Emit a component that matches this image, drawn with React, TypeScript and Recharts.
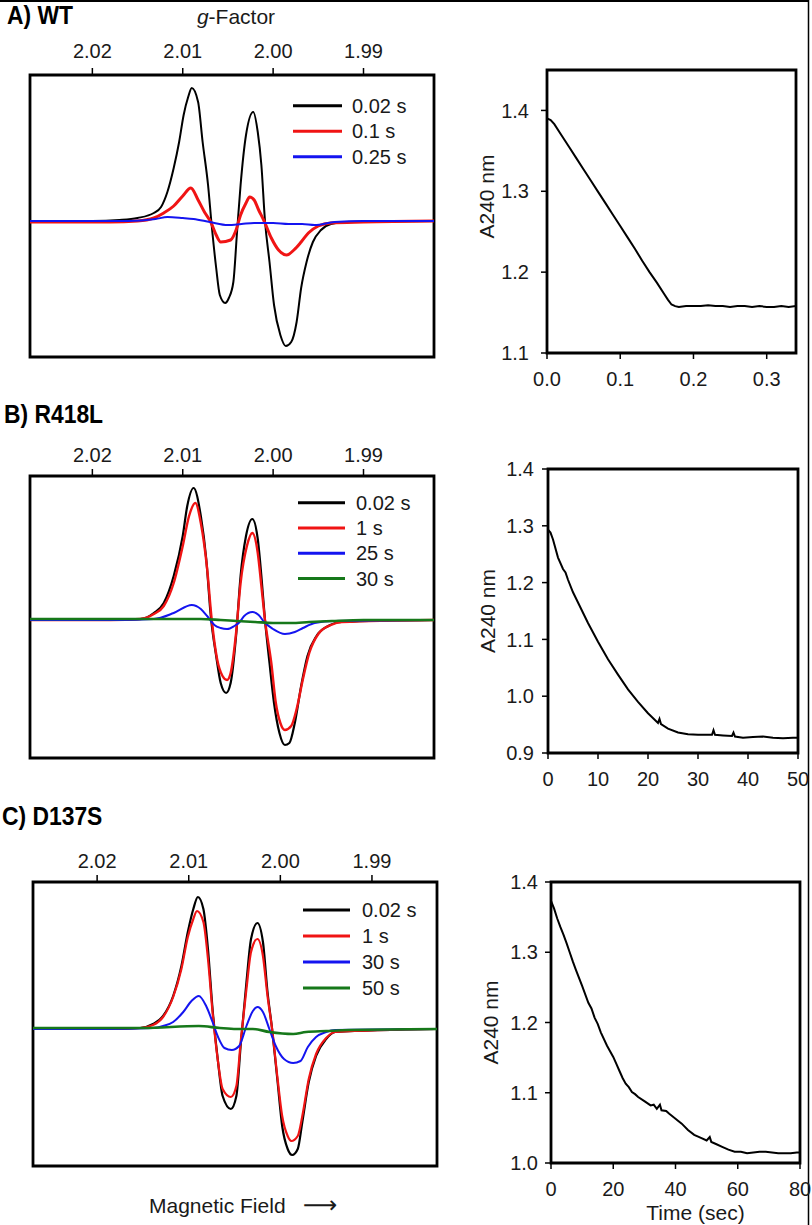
import React from 'react';
import { LineChart, Line, XAxis, YAxis, ReferenceArea, Legend, Label } from 'recharts';

const FONT = '"Liberation Sans", Arial, Helvetica, sans-serif';
const TXT = '#1a1a1a';
const BLACK = '#000000';
const RED = '#f01414';
const BLUE = '#1414f0';
const GREEN = '#16781a';

// ---------- EPR spectra (x: g-factor, y: derivative intensity, arb. units) ----------
const gTicks = [2.02, 2.01, 2.0, 1.99];
const gDomainAB = [1.9822, 2.0269];
const gDomainC = [1.9829, 2.027];

// Panel A (WT)
const gA_002 = [2.0269, 2.02, 2.017, 2.015, 2.0132, 2.0124, 2.0117, 2.011, 2.0104, 2.0099, 2.0094, 2.009, 2.0083, 2.0078, 2.0072, 2.0068, 2.0063, 2.0059, 2.0053, 2.0049, 2.0044, 2.004, 2.0036, 2.003, 2.0022, 2.0017, 2.0013, 2.0009, 2.0004, 1.9999, 1.9992, 1.9986, 1.998, 1.9974, 1.9969, 1.9963, 1.9956, 1.9947, 1.9936, 1.9919, 1.9822];
const yA_002 = [0, 0, 1, 3, 8, 14, 29, 53, 79, 106, 124, 133, 119, 79, 36, -4, -47, -74, -82, -77, -61, -12, 36, 86, 109, 89, 56, 0, -41, -84, -114, -125, -121, -101, -67, -41, -21, -9, -3, -1, 0];
const gA_01 = [2.0269, 2.018, 2.015, 2.0132, 2.0121, 2.011, 2.01, 2.0091, 2.0083, 2.0076, 2.0069, 2.0063, 2.0058, 2.0047, 2.0041, 2.0036, 2.003, 2.0026, 2.0021, 2.0016, 2.001, 2.0002, 1.9994, 1.9985, 1.9977, 1.9969, 1.9961, 1.995, 1.9936, 1.99, 1.9822];
const yA_01 = [-1, -1, 0, 3, 8, 15, 25, 33, 21, 9, -1, -14, -21, -19, -9, 6, 18, 24, 21, 11, 0, -17, -29, -34, -29, -21, -12, -5, -2, -1, 0];
const gA_025 = [2.0269, 2.016, 2.013, 2.0117, 2.01, 2.0088, 2.007, 2.005, 2.0035, 2.0021, 2.0, 1.9983, 1.9968, 1.9954, 1.9932, 1.99, 1.9822];
const yA_025 = [0, 0, 2, 4, 3, 2, -1, -4, -3, -2, -2, -3, -3, -4, -1, 0, 0];

// Panel B (R418L)
const gB_002 = [2.0269, 2.018, 2.0147, 2.0132, 2.0121, 2.011, 2.01, 2.0095, 2.0088, 2.008, 2.0074, 2.0069, 2.0063, 2.0058, 2.0052, 2.0047, 2.0041, 2.0036, 2.003, 2.0023, 2.0017, 2.0013, 2.0009, 2.0004, 1.9999, 1.9993, 1.9987, 1.9982, 1.9976, 1.9969, 1.9962, 1.9952, 1.9939, 1.9924, 1.9822];
const yB_002 = [0, 0, 1, 7, 17, 44, 84, 114, 132, 104, 61, 4, -36, -63, -73, -63, -16, 44, 84, 101, 81, 44, 0, -43, -83, -113, -125, -123, -103, -66, -36, -16, -6, -2, 0];
const gB_1 = [2.0269, 2.018, 2.0147, 2.0132, 2.0121, 2.011, 2.01, 2.0093, 2.0086, 2.008, 2.0073, 2.0068, 2.0062, 2.0056, 2.0051, 2.0047, 2.0041, 2.0036, 2.0029, 2.0023, 2.0017, 2.0013, 2.0009, 2.0002, 1.9997, 1.9992, 1.9987, 1.998, 1.9974, 1.9967, 1.996, 1.995, 1.9936, 1.9924, 1.9822];
const yB_1 = [0, 0, 1, 6, 14, 37, 74, 104, 117, 97, 51, 1, -39, -56, -60, -53, -13, 37, 74, 87, 67, 34, 0, -43, -83, -103, -110, -106, -89, -59, -33, -14, -5, -2, 0];
const gB_25 = [2.0269, 2.017, 2.0132, 2.011, 2.009, 2.008, 2.0073, 2.0065, 2.0058, 2.0051, 2.0043, 2.0037, 2.0032, 2.0023, 2.0016, 2.001, 2.0, 1.9987, 1.9976, 1.9967, 1.9954, 1.9932, 1.9822];
const yB_25 = [0, 0, 1, 7, 15, 11, 4, -5, -8, -9, -6, -2, 4, 8, 5, -2, -9, -14, -12, -8, -3, -1, 0];
const gB_30 = [2.0269, 2.015, 2.008, 2.0058, 2.004, 2.002, 2.0, 1.998, 1.996, 1.9935, 1.99, 1.9822];
const yB_30 = [1, 1, 1, 0, -1, -2, -3, -3, -2, -1, 0, 0];

// Panel C (D137S)
const gC_002 = [2.027, 2.019, 2.0153, 2.0139, 2.0128, 2.0117, 2.0108, 2.0101, 2.0095, 2.009, 2.0084, 2.0079, 2.0074, 2.0068, 2.0063, 2.0054, 2.0048, 2.0043, 2.0037, 2.0032, 2.0025, 2.0019, 2.0014, 2.0009, 2.0003, 1.9998, 1.9992, 1.9987, 1.9981, 1.9976, 1.9969, 1.9961, 1.995, 1.994, 1.9829];
const yC_002 = [0, 0, 1, 5, 13, 33, 63, 97, 120, 132, 120, 80, 20, -33, -67, -80, -67, -13, 47, 90, 106, 87, 37, 0, -53, -97, -120, -126, -120, -93, -53, -27, -10, -3, 0];
const gC_1 = [2.027, 2.019, 2.0153, 2.0139, 2.0128, 2.0117, 2.0108, 2.0101, 2.0095, 2.0091, 2.0084, 2.0079, 2.0074, 2.0068, 2.0063, 2.0054, 2.0048, 2.0043, 2.0037, 2.0032, 2.0025, 2.0019, 2.0014, 2.0009, 2.0003, 1.9998, 1.9992, 1.9988, 1.9981, 1.9976, 1.9969, 1.9961, 1.995, 1.994, 1.9829];
const yC_1 = [0, 0, 1, 4, 12, 32, 60, 92, 110, 118, 107, 70, 17, -33, -60, -68, -57, -10, 40, 77, 90, 73, 33, 0, -50, -87, -107, -112, -107, -87, -50, -25, -9, -3, 0];
const gC_30 = [2.027, 2.019, 2.0139, 2.0128, 2.0117, 2.0106, 2.0097, 2.0089, 2.0081, 2.0074, 2.0068, 2.0061, 2.0053, 2.0045, 2.0037, 2.003, 2.0025, 2.0019, 2.0012, 2.0005, 1.9996, 1.9986, 1.9978, 1.997, 1.9961, 1.995, 1.994, 1.9829];
const yC_30 = [0, 0, 1, 3, 7, 17, 28, 33, 23, 7, -8, -19, -21, -17, 3, 18, 22, 17, 0, -17, -30, -34, -32, -18, -8, -3, -1, 0];
const gC_50 = [2.027, 2.015, 2.0089, 2.0066, 2.0048, 2.003, 2.0012, 1.9986, 1.9972, 1.995, 1.9925, 1.9829];
const yC_50 = [1, 1, 3, 1, 0, 0, -3, -5, -3, -2, -1, 0];

// ---------- Stopped-flow traces (A240 nm vs time) ----------
const tA = [0, 0.005, 0.01, 0.02, 0.03, 0.04, 0.05, 0.06, 0.07, 0.08, 0.09, 0.1, 0.11, 0.12, 0.13, 0.14, 0.15, 0.16, 0.165, 0.17, 0.175, 0.18, 0.19, 0.2, 0.21, 0.22, 0.23, 0.24, 0.25, 0.26, 0.27, 0.28, 0.29, 0.3, 0.31, 0.32, 0.33, 0.34];
const aA = [1.39, 1.388, 1.383, 1.369, 1.355, 1.341, 1.327, 1.313, 1.299, 1.285, 1.271, 1.257, 1.243, 1.229, 1.214, 1.2, 1.187, 1.173, 1.166, 1.16, 1.158, 1.157, 1.158, 1.158, 1.158, 1.159, 1.158, 1.158, 1.157, 1.158, 1.158, 1.157, 1.158, 1.157, 1.157, 1.158, 1.157, 1.158];
const tB = [0, 0.5, 1, 2, 3, 3.5, 4, 5, 6, 8, 10, 12, 14, 16, 18, 20, 22, 22.3, 22.6, 24, 26, 28, 30, 32, 32.8, 33.1, 33.4, 35, 36.8, 37.1, 37.4, 39, 41, 43, 45, 47, 49, 50];
const aB = [1.293, 1.288, 1.276, 1.244, 1.224, 1.218, 1.205, 1.183, 1.165, 1.129, 1.096, 1.065, 1.038, 1.012, 0.99, 0.97, 0.953, 0.96, 0.951, 0.943, 0.936, 0.933, 0.932, 0.932, 0.932, 0.94, 0.932, 0.931, 0.93, 0.936, 0.929, 0.927, 0.928, 0.929, 0.927, 0.926, 0.927, 0.927];
const tC = [0, 1, 2, 3, 4, 5, 6, 7, 8, 10, 12, 13, 14, 15, 16, 18, 20, 21, 22, 23, 24, 25, 26, 27, 28, 30, 32, 33, 34, 35, 35.5, 37, 38, 40, 42, 44, 46, 48, 50, 51, 51.5, 53, 55, 57, 59, 61, 63, 65, 67, 69, 71, 73, 75, 77, 79, 80];
const aC = [1.373, 1.362, 1.348, 1.336, 1.325, 1.313, 1.3, 1.287, 1.275, 1.252, 1.228, 1.22, 1.207, 1.198, 1.186, 1.167, 1.151, 1.141, 1.131, 1.121, 1.113, 1.108, 1.101, 1.098, 1.094, 1.088, 1.082, 1.083, 1.077, 1.083, 1.075, 1.074, 1.07, 1.063, 1.056, 1.047, 1.04, 1.036, 1.032, 1.037, 1.03, 1.027, 1.023, 1.019, 1.016, 1.016, 1.014, 1.015, 1.016, 1.016, 1.015, 1.014, 1.014, 1.014, 1.015, 1.015];

const xTicksA = [0, 0.1, 0.2, 0.3];
const xTicksB = [0, 10, 20, 30, 40, 50];
const xTicksC = [0, 20, 40, 60, 80];
const yTicksA = [1.1, 1.2, 1.3, 1.4];
const yTicksB = [0.9, 1.0, 1.1, 1.2, 1.3, 1.4];
const yTicksC = [1.0, 1.1, 1.2, 1.3, 1.4];

function pts(xs: number[], ys: number[]) {
  return xs.map((x, i) => ({ x, y: ys[i] }));
}

type Series = { name: string; color: string; width: number; data: { x: number; y: number }[] };

function EprLegend({ items, lineLen, gap, rowH }: { items: Series[]; lineLen: number; gap: number; rowH: number }) {
  return (
    <svg width={170} height={rowH * items.length + 4} style={{ display: 'block', overflow: 'visible' }}>
      {items.map((s, i) => {
        const cy = rowH / 2 + i * rowH;
        return (
          <g key={s.name}>
            <line x1={0} x2={lineLen} y1={cy} y2={cy} stroke={s.color} strokeWidth={3} />
            <text x={lineLen + gap} y={cy} dy="0.36em" fontSize={20} fontFamily={FONT} fill={TXT}>
              {s.name}
            </text>
          </g>
        );
      })}
    </svg>
  );
}

type EprProps = {
  left: number; top: number; width: number; height: number;
  box: [number, number, number, number]; // local x0, y0, x1, y1
  gDomain: number[]; yDomain: number[]; series: Series[];
  tickMargin: number;
  legend: { left: number; top: number; lineLen: number; gap: number; rowH: number };
};

function EprPanel(p: EprProps) {
  const axisH = 30;
  const [x0, y0, x1, y1] = p.box;
  return (
    <div style={{ position: 'absolute', left: p.left, top: p.top }}>
      <LineChart
        width={p.width}
        height={p.height}
        margin={{ top: y0 - axisH, left: x0, right: p.width - x1, bottom: p.height - y1 }}
      >
        <XAxis
          type="number"
          dataKey="x"
          domain={p.gDomain}
          reversed
          orientation="top"
          ticks={gTicks}
          interval={0}
          allowDataOverflow
          tickFormatter={(v: number) => v.toFixed(2)}
          height={axisH}
          tickSize={7}
          tickMargin={p.tickMargin}
          axisLine={false}
          tickLine={{ stroke: '#000', strokeWidth: 1.5 }}
          tick={{ fontSize: 20, fill: TXT, fontFamily: FONT }}
        />
        <YAxis type="number" domain={p.yDomain} hide allowDataOverflow />
        {p.series.map((s) => (
          <Line
            key={s.name}
            data={s.data}
            dataKey="y"
            name={s.name}
            type="monotone"
            stroke={s.color}
            strokeWidth={s.width}
            dot={false}
            activeDot={false}
            isAnimationActive={false}
          />
        ))}
        <ReferenceArea
          x1={p.gDomain[0]}
          x2={p.gDomain[1]}
          y1={p.yDomain[0]}
          y2={p.yDomain[1]}
          fill="none"
          fillOpacity={0}
          stroke="#000"
          strokeWidth={2.8}
          ifOverflow="visible"
        />
        <Legend
          layout="vertical"
          align="center"
          verticalAlign="middle"
          wrapperStyle={{ left: p.legend.left, top: p.legend.top, width: 170 }}
          content={() => (
            <EprLegend items={p.series} lineLen={p.legend.lineLen} gap={p.legend.gap} rowH={p.legend.rowH} />
          )}
        />
      </LineChart>
    </div>
  );
}

type KinProps = {
  left: number; top: number; width: number; height: number;
  box: [number, number, number, number];
  xDomain: number[]; yDomain: number[]; xTicks: number[]; yTicks: number[];
  xFmt: (v: number) => string;
  data: { x: number; y: number }[];
  xAxisH: number; yTickMargin: number; labelDy: number;
  xLabel?: string;
};

function KineticPanel(p: KinProps) {
  const yAxisW = 120;
  const [x0, y0, x1, y1] = p.box;
  return (
    <div style={{ position: 'absolute', left: p.left, top: p.top }}>
      <LineChart
        width={p.width}
        height={p.height}
        margin={{ top: y0, left: x0 - yAxisW, right: p.width - x1, bottom: p.height - y1 - p.xAxisH }}
      >
        <XAxis
          type="number"
          dataKey="x"
          domain={p.xDomain}
          ticks={p.xTicks}
          interval={0}
          allowDataOverflow
          tickFormatter={p.xFmt}
          height={p.xAxisH}
          tickSize={6}
          tickMargin={13}
          axisLine={false}
          tickLine={{ stroke: '#000', strokeWidth: 1.5 }}
          tick={{ fontSize: 20, fill: TXT, fontFamily: FONT }}
          label={
            p.xLabel
              ? <Label value={p.xLabel} position="insideBottom" offset={-2} dx={20} fontSize={21} fill={TXT} fontFamily={FONT} />
              : undefined
          }
        />
        <YAxis
          type="number"
          domain={p.yDomain}
          ticks={p.yTicks}
          interval={0}
          allowDataOverflow
          width={yAxisW}
          tickFormatter={(v: number) => v.toFixed(1)}
          tickSize={6}
          tickMargin={p.yTickMargin}
          axisLine={false}
          tickLine={{ stroke: '#000', strokeWidth: 1.5 }}
          tick={{ fontSize: 20, fill: TXT, fontFamily: FONT }}
          label={<Label value="A240 nm" angle={-90} position="center" dy={p.labelDy} fontSize={21} fill={TXT} fontFamily={FONT} />}
        />
        <Line
          data={p.data}
          dataKey="y"
          type="linear"
          stroke="#000"
          strokeWidth={2}
          dot={false}
          activeDot={false}
          isAnimationActive={false}
        />
        <ReferenceArea
          x1={p.xDomain[0]}
          x2={p.xDomain[1]}
          y1={p.yDomain[0]}
          y2={p.yDomain[1]}
          fill="none"
          fillOpacity={0}
          stroke="#000"
          strokeWidth={2.8}
          ifOverflow="visible"
        />
      </LineChart>
    </div>
  );
}

const seriesA: Series[] = [
  { name: '0.02 s', color: BLACK, width: 2, data: pts(gA_002, yA_002) },
  { name: '0.1 s', color: RED, width: 3, data: pts(gA_01, yA_01) },
  { name: '0.25 s', color: BLUE, width: 2, data: pts(gA_025, yA_025) },
];
const seriesB: Series[] = [
  { name: '0.02 s', color: BLACK, width: 2.2, data: pts(gB_002, yB_002) },
  { name: '1 s', color: RED, width: 2.4, data: pts(gB_1, yB_1) },
  { name: '25 s', color: BLUE, width: 2, data: pts(gB_25, yB_25) },
  { name: '30 s', color: GREEN, width: 2.6, data: pts(gB_30, yB_30) },
];
const seriesC: Series[] = [
  { name: '0.02 s', color: BLACK, width: 2.2, data: pts(gC_002, yC_002) },
  { name: '1 s', color: RED, width: 2.2, data: pts(gC_1, yC_1) },
  { name: '30 s', color: BLUE, width: 2, data: pts(gC_30, yC_30) },
  { name: '50 s', color: GREEN, width: 2.6, data: pts(gC_50, yC_50) },
];

function Title({ x, y, text }: { x: number; y: number; text: string }) {
  return (
    <g transform={`translate(${x} ${y}) scale(0.88 1)`}>
      <text x={0} y={0} fontSize={26} fontWeight="bold" fontFamily={FONT} fill="#000">
        {text}
      </text>
    </g>
  );
}

export default function App() {
  return (
    <div
      style={{
        position: 'absolute', left: 0, top: 0, width: 812, height: 1225,
        background: '#fff', overflow: 'hidden', fontFamily: FONT,
      }}
    >
      <svg width={812} height={1225} style={{ position: 'absolute', left: 0, top: 0 }}>
        <line x1={0} y1={1} x2={809} y2={1} stroke="#000" strokeWidth={2} />
        <line x1={808.5} y1={0} x2={808.5} y2={1225} stroke="#000" strokeWidth={1.5} />
        <Title x={7} y={24} text="A) WT" />
        <Title x={4} y={423} text="B) R418L" />
        <Title x={2} y={825} text="C) D137S" />
        <text x={236} y={24} textAnchor="middle" fontSize={21} fontFamily={FONT} fill={TXT}>
          <tspan fontStyle="italic">g</tspan>-Factor
        </text>
        <text x={149} y={1213} fontSize={21} fontFamily={FONT} fill={TXT}>
          Magnetic Field
        </text>
        <text x={303} y={1213} fontSize={24} fontFamily='"DejaVu Sans", sans-serif' fill={TXT}>
          ⟶
        </text>
      </svg>

      <EprPanel
        left={0} top={0} width={440} height={362}
        box={[30, 75, 434, 357]}
        gDomain={gDomainAB} yDomain={[-136, 146]}
        series={seriesA} tickMargin={10}
        legend={{ left: 293, top: 93, lineLen: 49, gap: 10, rowH: 25.5 }}
      />
      <EprPanel
        left={0} top={380} width={440} height={382}
        box={[30, 96, 434, 378]}
        gDomain={gDomainAB} yDomain={[-138, 144]}
        series={seriesB} tickMargin={7}
        legend={{ left: 298, top: 110, lineLen: 47, gap: 11, rowH: 25.3 }}
      />
      <EprPanel
        left={0} top={800} width={445} height={370}
        box={[33, 82, 437, 366]}
        gDomain={gDomainC} yDomain={[-137, 147]}
        series={seriesC} tickMargin={7}
        legend={{ left: 303, top: 97, lineLen: 47, gap: 12, rowH: 26 }}
      />

      <KineticPanel
        left={420} top={40} width={392} height={362}
        box={[127, 30, 376, 313]}
        xDomain={[0, 0.34]} yDomain={[1.1, 1.45]}
        xTicks={xTicksA} yTicks={yTicksA}
        xFmt={(v: number) => v.toFixed(1)}
        data={pts(tA, aA)} xAxisH={40} yTickMargin={12} labelDy={-15}
      />
      <KineticPanel
        left={420} top={420} width={392} height={380}
        box={[128, 49, 378, 333]}
        xDomain={[0, 50]} yDomain={[0.9, 1.4]}
        xTicks={xTicksB} yTicks={yTicksB}
        xFmt={(v: number) => String(Math.round(v))}
        data={pts(tB, aB)} xAxisH={40} yTickMargin={8} labelDy={0}
      />
      <KineticPanel
        left={420} top={840} width={392} height={385}
        box={[131, 42, 380, 323]}
        xDomain={[0, 80]} yDomain={[1.0, 1.4]}
        xTicks={xTicksC} yTicks={yTicksC}
        xFmt={(v: number) => String(Math.round(v))}
        data={pts(tC, aC)} xAxisH={55} yTickMargin={7} labelDy={0}
        xLabel="Time (sec)"
      />
    </div>
  );
}
